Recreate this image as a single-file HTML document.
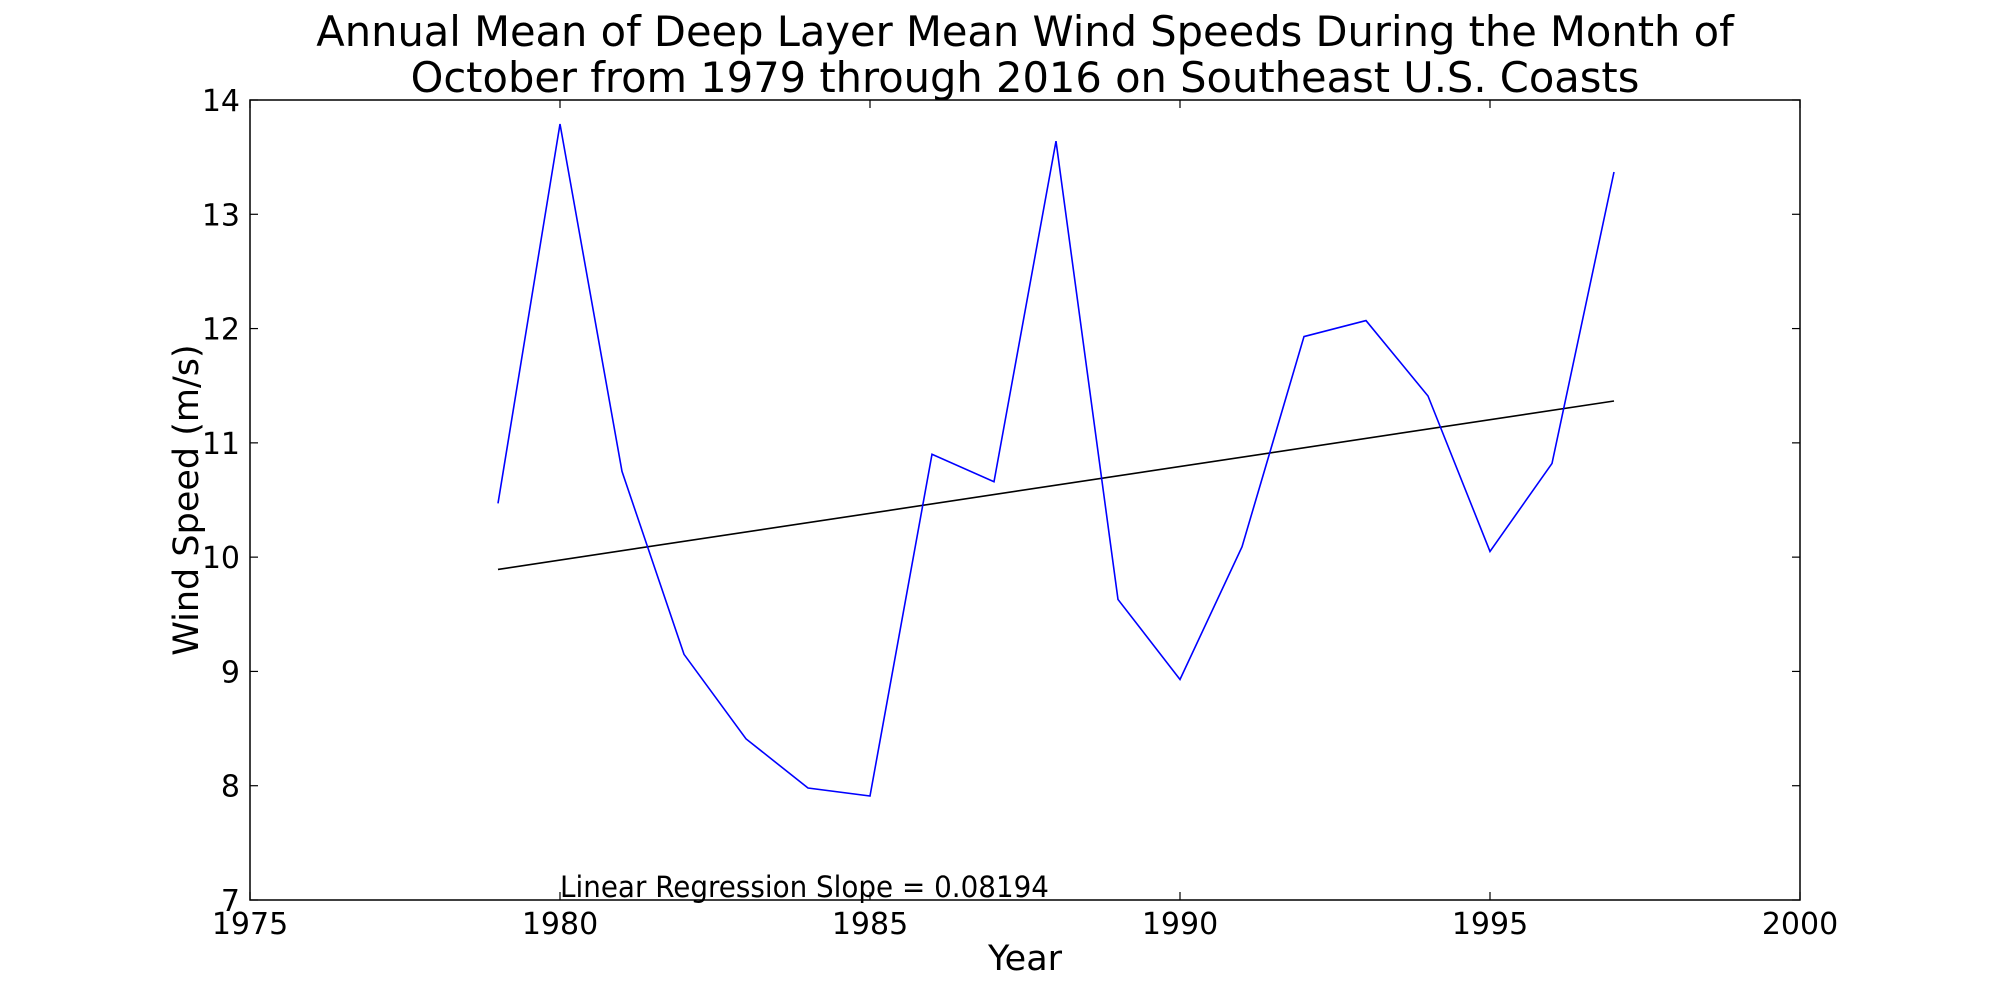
<!DOCTYPE html>
<html><head><meta charset="utf-8"><style>
html,body{margin:0;padding:0;background:#fff;}
svg{display:block;font-family:"DejaVu Sans","Liberation Sans",sans-serif;}
</style></head><body>
<svg id="chart" width="2000" height="1000" viewBox="0 0 2000 1000">
<text x="1025" y="46" font-size="41.6" text-anchor="middle">Annual Mean of Deep Layer Mean Wind Speeds During the Month of</text>
<text x="1025" y="92" font-size="41.6" text-anchor="middle">October from 1979 through 2016 on Southeast U.S. Coasts</text>
<g id="plot"></g>
<text transform="translate(198,500) rotate(-90)" font-size="35" text-anchor="middle">Wind Speed (m/s)</text>
<text x="1025" y="970" font-size="35" text-anchor="middle">Year</text>
</svg>
<script>
const years=[1979,1980,1981,1982,1983,1984,1985,1986,1987,1988,1989,1990,1991,1992,1993,1994,1995,1996,1997];
const speeds=[10.47,13.79,10.75,9.15,8.41,7.98,7.91,10.90,10.66,13.64,9.63,8.93,10.09,11.93,12.07,11.41,10.05,10.82,13.37];
const xTicks=[1975,1980,1985,1990,1995,2000];
const yTicks=[7,8,9,10,11,12,13,14];
const slopeLabel="Linear Regression Slope = 0.08194";

const L=250,R=1800,T=100,B=900;
const xs=v=>L+(v-1975)/(2000-1975)*(R-L);
const ys=v=>B-(v-7)/(14-7)*(B-T);
const NS="http://www.w3.org/2000/svg";
const g=document.getElementById('plot');
function mk(tag,attrs,parent){const e=document.createElementNS(NS,tag);for(const k in attrs)e.setAttribute(k,attrs[k]);(parent||g).appendChild(e);return e;}

const n=years.length;const mx=years.reduce((a,b)=>a+b,0)/n;const my=speeds.reduce((a,b)=>a+b,0)/n;
let sxy=0,sxx=0;for(let i=0;i<n;i++){sxy+=(years[i]-mx)*(speeds[i]-my);sxx+=(years[i]-mx)**2;}
const slope=sxy/sxx,icpt=my-slope*mx;
const x0=years[0],x1=years[n-1];
const reg=mk('line',{x1:xs(x0),y1:ys(icpt+slope*x0),x2:xs(x1),y2:ys(icpt+slope*x1),stroke:'#000','stroke-width':1.6});



const pl=mk('polyline',{points:years.map((y,i)=>xs(y)+','+ys(speeds[i])).join(' '),fill:'none',stroke:'#0000ff','stroke-width':1.6});



const fr=mk('rect',{x:L,y:T,width:R-L,height:B-T,fill:'none',stroke:'#000','stroke-width':1.5});



xTicks.forEach(v=>{
  const x=xs(v);
  mk('line',{x1:x,y1:B,x2:x,y2:B-8,stroke:'#000','stroke-width':1.2});
  mk('line',{x1:x,y1:T,x2:x,y2:T+8,stroke:'#000','stroke-width':1.2});
  const t=mk('text',{x:x,y:B+34,'font-size':30,'text-anchor':'middle'});t.textContent=v;
  
  
});
yTicks.forEach(v=>{
  const y=ys(v);
  mk('line',{x1:L,y1:y,x2:L+8,y2:y,stroke:'#000','stroke-width':1.2});
  mk('line',{x1:R,y1:y,x2:R-8,y2:y,stroke:'#000','stroke-width':1.2});
  const t=mk('text',{x:L-10,y:y+11,'font-size':30,'text-anchor':'end'});t.textContent=v;
  
  
});
const an=mk('text',{x:xs(1980),y:B-3,'font-size':29,textLength:489,lengthAdjust:'spacingAndGlyphs'});
an.textContent=slopeLabel;


</script>
</body></html>
